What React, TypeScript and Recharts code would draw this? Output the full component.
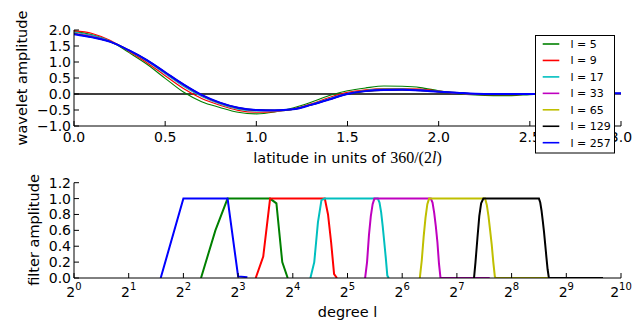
import { LineChart, Line, XAxis, YAxis, ReferenceLine, Legend } from "recharts";

const FONT = "DejaVu Sans";

// upper panel: wavelets against latitude in units of 360/(2l)
const LATITUDE = [
  0.0, 0.1, 0.2, 0.3, 0.4, 0.5, 0.6, 0.7, 0.8, 0.9, 1.0, 1.1, 1.2, 1.3, 1.4, 1.5,
  1.6, 1.7, 1.8, 1.9, 2.0, 2.1, 2.2, 2.3, 2.4, 2.5, 2.6, 2.7, 2.8, 2.9, 3.0,
];
const WAVELET_L5 = [
  1.95, 1.85, 1.65, 1.3, 0.93, 0.49, 0.06, -0.24, -0.42, -0.57, -0.62, -0.56, -0.44, -0.26, -0.05, 0.1,
  0.19, 0.25, 0.24, 0.2, 0.1, 0.02, -0.03, -0.05, -0.05, -0.02, 0, 0, 0, 0, 0,
];
const WAVELET_L9 = [
  1.98, 1.89, 1.67, 1.34, 0.98, 0.57, 0.17, -0.14, -0.35, -0.51, -0.57, -0.55, -0.47, -0.31, -0.11, 0.05,
  0.13, 0.17, 0.17, 0.15, 0.09, 0.03, -0.01, -0.02, -0.02, -0.01, 0, 0, 0, 0, 0,
];
const WAVELET_L17 = [
  1.93, 1.83, 1.65, 1.36, 1.02, 0.63, 0.24, -0.08, -0.31, -0.47, -0.53, -0.53, -0.48, -0.33, -0.14, 0.02,
  0.11, 0.15, 0.15, 0.13, 0.08, 0.03, 0, -0.01, -0.01, 0, 0, 0, 0, 0, 0,
];
const WAVELET_L33 = [
  1.9, 1.8, 1.64, 1.37, 1.04, 0.66, 0.27, -0.05, -0.29, -0.45, -0.51, -0.52, -0.48, -0.34, -0.16, 0.01,
  0.1, 0.13, 0.14, 0.12, 0.07, 0.03, 0, 0, 0, 0, 0, 0, 0, 0.01, 0.01,
];
const WAVELET_L65 = [
  1.89, 1.78, 1.63, 1.37, 1.05, 0.67, 0.29, -0.04, -0.28, -0.44, -0.5, -0.51, -0.48, -0.34, -0.17, 0,
  0.09, 0.13, 0.13, 0.11, 0.07, 0.04, 0.01, 0, 0, 0, 0, 0, 0.01, 0.01, 0.02,
];
const WAVELET_L129 = [
  1.88, 1.77, 1.63, 1.37, 1.06, 0.68, 0.3, -0.03, -0.27, -0.43, -0.5, -0.51, -0.48, -0.34, -0.17, 0,
  0.09, 0.12, 0.13, 0.11, 0.07, 0.04, 0.01, 0, 0, 0, 0, 0, 0.01, 0.02, 0.02,
];
const WAVELET_L257 = [
  1.87, 1.77, 1.63, 1.37, 1.06, 0.68, 0.3, -0.03, -0.27, -0.43, -0.5, -0.51, -0.48, -0.34, -0.17, 0,
  0.09, 0.125, 0.13, 0.11, 0.07, 0.04, 0.01, 0, 0, 0, 0, 0, 0.01, 0.02, 0.02,
];

const DEGREES = [5, 9, 17, 33, 65, 129, 257];
const WAVELETS = [WAVELET_L5, WAVELET_L9, WAVELET_L17, WAVELET_L33, WAVELET_L65, WAVELET_L129, WAVELET_L257];
const COLORS = ["#008000", "#ff0000", "#00bfbf", "#bf00bf", "#bfbf00", "#000000", "#0000ff"];
const WIDTHS = [1.1, 1.2, 1.2, 1.2, 1.2, 1.3, 2];

const LAT_TICKS = [0, 0.5, 1, 1.5, 2, 2.5, 3];
const WAVELET_TICKS = [-1, -0.5, 0, 0.5, 1, 1.5, 2];

// lower panel: filter bands over degree l
const BAND_GREEN_L = [5, 6, 7, 12, 13, 14, 15];
const BAND_GREEN_A = [0, 0.6, 1, 1, 0.94, 0.2, 0];
const BAND_RED_L = [10, 11, 12, 24, 25, 26, 27, 28];
const BAND_RED_A = [0, 0.27, 1, 1, 0.8, 0.45, 0.05, 0];
const BAND_CYAN_L = [20, 21, 22, 23, 24, 47, 48, 49, 50, 51, 52, 53, 54];
const BAND_CYAN_A = [0, 0.2, 0.7, 0.98, 1, 1, 0.95, 0.83, 0.65, 0.45, 0.25, 0.03, 0];
const BAND_MAGENTA_L = [40, 41, 42, 43, 44, 45, 92, 94, 96, 98, 100, 102, 104, 194];
const BAND_MAGENTA_A = [0, 0.2, 0.54, 0.78, 0.93, 1, 1, 0.95, 0.82, 0.65, 0.45, 0.18, 0, 0];
const BAND_YELLOW_L = [80, 82, 84, 86, 88, 90, 183, 187, 191, 195, 199, 203, 207, 209, 407];
const BAND_YELLOW_A = [0, 0.22, 0.52, 0.76, 0.93, 1, 1, 0.92, 0.78, 0.6, 0.42, 0.2, 0.02, 0, 0];
const BAND_BLACK_L = [159, 162, 166, 170, 174, 179, 362, 368, 374, 380, 386, 392, 398, 404, 410, 412, 815];
const BAND_BLACK_A = [0, 0.2, 0.5, 0.78, 0.94, 1, 1, 0.95, 0.85, 0.72, 0.58, 0.42, 0.26, 0.11, 0.01, 0, 0];
const BAND_BLUE_L = [3, 4, 7, 8, 9];
const BAND_BLUE_A = [0, 1, 1, 0.02, 0.01];

const BANDS = [
  [BAND_GREEN_L, BAND_GREEN_A],
  [BAND_RED_L, BAND_RED_A],
  [BAND_CYAN_L, BAND_CYAN_A],
  [BAND_MAGENTA_L, BAND_MAGENTA_A],
  [BAND_YELLOW_L, BAND_YELLOW_A],
  [BAND_BLACK_L, BAND_BLACK_A],
  [BAND_BLUE_L, BAND_BLUE_A],
];

const DEGREE_TICKS = [1, 2, 4, 8, 16, 32, 64, 128, 256, 512, 1024];
const FILTER_TICKS = [0, 0.2, 0.4, 0.6, 0.8, 1.0, 1.2];

const waveletRows = LATITUDE.map((t, i) => {
  const row: Record<string, number> = { t };
  DEGREES.forEach((l, j) => {
    row["l" + l] = WAVELETS[j][i];
  });
  return row;
});

const bandPoints = BANDS.map(([ls, amps]) => ls.map((l, i) => ({ l, amp: amps[i] })));

const fmt = (v: number) => (v < 0 ? "\u2212" : "") + Math.abs(v).toFixed(1);

const textProps = { fontFamily: FONT, fontSize: 14, fill: "#000" };

function LeftTick({ x, y, payload }: any) {
  return (
    <g>
      <line x1={x} x2={x + 5} y1={y} y2={y} stroke="#000" />
      <text x={x - 3} y={y} dy={5} textAnchor="end" {...textProps}>
        {fmt(payload.value)}
      </text>
    </g>
  );
}

function RightTick({ x, y }: any) {
  return <line x1={x - 5} x2={x} y1={y} y2={y} stroke="#000" />;
}

function TopTick({ x, y }: any) {
  return <line x1={x} x2={x} y1={y} y2={y + 5} stroke="#000" />;
}

function BottomTick({ x, y, payload }: any) {
  return (
    <g>
      <line x1={x} x2={x} y1={y} y2={y - 5} stroke="#000" />
      <text x={x} y={y + 15.7} textAnchor="middle" {...textProps}>
        {fmt(payload.value)}
      </text>
    </g>
  );
}

function PowerTick({ x, y, payload }: any) {
  const exp = Math.round(Math.log2(payload.value));
  return (
    <g>
      <line x1={x} x2={x} y1={y} y2={y - 5} stroke="#000" />
      <text x={x} y={y + 18.7} textAnchor="middle" {...textProps}>
        <tspan>2</tspan>
        <tspan dy={-7} fontSize={10}>
          {exp}
        </tspan>
      </text>
    </g>
  );
}

function WaveletLegend() {
  return (
    <svg width={80} height={119}>
      <rect x={0.5} y={0.5} width={79} height={117.5} fill="#fff" stroke="#000" />
      {DEGREES.map((l, i) => {
        const cy = 9 + i * 16.45;
        return (
          <g key={l}>
            <line x1={7.7} x2={24.3} y1={cy} y2={cy} stroke={COLORS[i]} strokeWidth={1.6} />
            <text x={35.5} y={cy + 4} fontFamily={FONT} fontSize={11} fill="#000">
              {"l = " + l}
            </text>
          </g>
        );
      })}
    </svg>
  );
}

export default function App() {
  return (
    <div style={{ position: "absolute", left: 0, top: 0, width: 643, height: 320, background: "#fff" }}>
      <div style={{ position: "absolute", left: 0, top: 0 }}>
        <LineChart width={643} height={170} data={waveletRows} margin={{ top: 30, right: 22, bottom: 0, left: 0 }}>
          <XAxis
            dataKey="t"
            type="number"
            domain={[0, 3]}
            ticks={LAT_TICKS}
            interval={0}
            allowDataOverflow
            height={44}
            tickSize={0}
            tickMargin={0}
            tickLine={false}
            axisLine={{ stroke: "#000" }}
            tick={(p: any) => <BottomTick {...p} />}
            label={{
              content: () => (
                <text x={347.5} y={162.6} textAnchor="middle" fontFamily={FONT} fontSize={14.5} fill="#000">
                  <tspan>latitude in units of </tspan>
                  <tspan fontFamily="Liberation Serif" fontSize={16}>
                    360/(2<tspan fontStyle="italic">l</tspan>)
                  </tspan>
                </text>
              ),
            }}
          />
          <XAxis
            xAxisId="top"
            orientation="top"
            dataKey="t"
            type="number"
            domain={[0, 3]}
            ticks={LAT_TICKS}
            interval={0}
            allowDataOverflow
            height={0}
            tickSize={0}
            tickMargin={0}
            tickLine={false}
            axisLine={{ stroke: "#000" }}
            tick={(p: any) => <TopTick {...p} />}
          />
          <YAxis
            type="number"
            domain={[-1, 2]}
            ticks={WAVELET_TICKS}
            interval={0}
            allowDataOverflow
            width={74}
            tickSize={0}
            tickMargin={0}
            tickLine={false}
            axisLine={{ stroke: "#000" }}
            tick={(p: any) => <LeftTick {...p} />}
            label={{
              content: () => (
                <text
                  x={27.3}
                  y={78}
                  transform="rotate(-90 27.3 78)"
                  textAnchor="middle"
                  fontFamily={FONT}
                  fontSize={14.5}
                  fill="#000"
                >
                  wavelet amplitude
                </text>
              ),
            }}
          />
          <YAxis
            yAxisId="right"
            orientation="right"
            type="number"
            domain={[-1, 2]}
            ticks={WAVELET_TICKS}
            interval={0}
            allowDataOverflow
            width={0}
            tickSize={0}
            tickMargin={0}
            tickLine={false}
            axisLine={{ stroke: "#000" }}
            tick={(p: any) => <RightTick {...p} />}
          />
          <ReferenceLine y={0} stroke="#000" strokeWidth={1.6} />
          {DEGREES.map((l, i) => (
            <Line
              key={l}
              dataKey={"l" + l}
              type="monotone"
              stroke={COLORS[i]}
              strokeWidth={WIDTHS[i]}
              dot={false}
              isAnimationActive={false}
            />
          ))}
          <Legend
            layout="horizontal"
            verticalAlign="middle"
            align="center"
            wrapperStyle={{ left: 535, top: 35, width: 80, height: 119 }}
            content={() => <WaveletLegend />}
          />
        </LineChart>
      </div>
      <div style={{ position: "absolute", left: 0, top: 160 }}>
        <LineChart width={643} height={162} margin={{ top: 22.7, right: 22, bottom: 0, left: 0 }}>
          <XAxis
            dataKey="l"
            type="number"
            scale="log"
            domain={[1, 1024]}
            ticks={DEGREE_TICKS}
            interval={0}
            allowDataOverflow
            height={44}
            tickSize={0}
            tickMargin={0}
            tickLine={false}
            axisLine={{ stroke: "#000" }}
            tick={(p: any) => <PowerTick {...p} />}
            label={{
              content: () => (
                <text x={347.5} y={157.3} textAnchor="middle" fontFamily={FONT} fontSize={14.5} fill="#000">
                  degree l
                </text>
              ),
            }}
          />
          <XAxis
            xAxisId="top"
            orientation="top"
            dataKey="l"
            type="number"
            scale="log"
            domain={[1, 1024]}
            ticks={DEGREE_TICKS}
            interval={0}
            allowDataOverflow
            height={0}
            tickSize={0}
            tickMargin={0}
            tickLine={false}
            axisLine={{ stroke: "#000" }}
            tick={(p: any) => <TopTick {...p} />}
          />
          <YAxis
            type="number"
            domain={[0, 1.2]}
            ticks={FILTER_TICKS}
            interval={0}
            allowDataOverflow
            width={74}
            tickSize={0}
            tickMargin={0}
            tickLine={false}
            axisLine={{ stroke: "#000" }}
            tick={(p: any) => <LeftTick {...p} />}
            label={{
              content: () => (
                <text
                  x={39}
                  y={70}
                  transform="rotate(-90 39 70)"
                  textAnchor="middle"
                  fontFamily={FONT}
                  fontSize={14.5}
                  fill="#000"
                >
                  filter amplitude
                </text>
              ),
            }}
          />
          <YAxis
            yAxisId="right"
            orientation="right"
            type="number"
            domain={[0, 1.2]}
            ticks={FILTER_TICKS}
            interval={0}
            allowDataOverflow
            width={0}
            tickSize={0}
            tickMargin={0}
            tickLine={false}
            axisLine={{ stroke: "#000" }}
            tick={(p: any) => <RightTick {...p} />}
          />
          {bandPoints.map((pts, i) => (
            <Line
              key={i}
              data={pts}
              dataKey="amp"
              type="linear"
              stroke={COLORS[i]}
              strokeWidth={2}
              dot={false}
              isAnimationActive={false}
            />
          ))}
        </LineChart>
      </div>
    </div>
  );
}
